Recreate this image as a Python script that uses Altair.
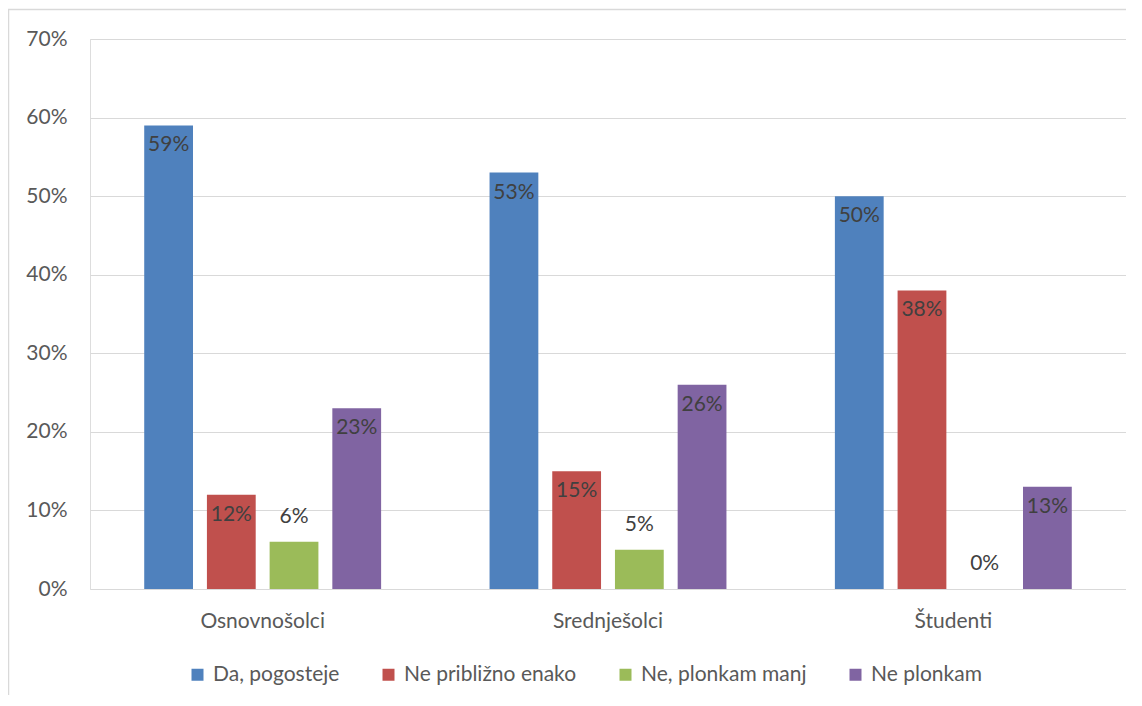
import altair as alt
import pandas as pd

groups = ["Osnovnošolci", "Srednješolci", "Študenti"]
series = ["Da, pogosteje", "Ne približno enako", "Ne, plonkam manj", "Ne plonkam"]
colors = ["#4F81BD", "#C0504D", "#9BBB59", "#8064A2"]
osnovnosolci = [0.59, 0.12, 0.06, 0.23]
srednjesolci = [0.53, 0.15, 0.05, 0.26]
studenti = [0.50, 0.38, 0.00, 0.13]
y_ticks = [0, 0.1, 0.2, 0.3, 0.4, 0.5, 0.6, 0.7]

rows = []
for g, vals in zip(groups, [osnovnosolci, srednjesolci, studenti]):
    for s, v in zip(series, vals):
        rows.append({"group": g, "series": s, "value": v})
df = pd.DataFrame(rows)

FONT = "Lato"
TXT = "#595959"
FS = 21

x_enc = alt.X("group:N", sort=groups, title=None,
              scale=alt.Scale(paddingInner=0.314, paddingOuter=0.157),
              axis=alt.Axis(labelAngle=0, ticks=False, domain=False, labelPadding=21,
                            labelFontSize=FS, labelColor=TXT, labelFont=FONT, grid=False))
xo_enc = alt.XOffset("series:N", sort=series,
                     scale=alt.Scale(paddingInner=0.222, paddingOuter=0))
y_enc = alt.Y("value:Q", title=None,
              scale=alt.Scale(domain=[0, 0.7], nice=False),
              axis=alt.Axis(values=y_ticks, format=".0%", ticks=False, domain=False,
                            labelPadding=23, labelFontSize=FS, labelColor=TXT, labelFont=FONT,
                            gridColor="#D9D9D9", gridWidth=1.2))

base = alt.Chart(df)

bars = base.mark_bar().encode(
    x=x_enc, xOffset=xo_enc, y=y_enc,
    color=alt.Color("series:N", sort=series, title=None,
                    scale=alt.Scale(domain=series, range=colors),
                    legend=alt.Legend(orient="none", legendX=97, legendY=625, direction="horizontal",
                                      columns=4, symbolType="square", symbolSize=144,
                                      symbolStrokeWidth=0, labelFontSize=FS, labelColor=TXT,
                                      labelFont=FONT, labelOffset=5, columnPadding=38, padding=0,
                                      labelLimit=400)),
)

label_common = dict(fontSize=FS, color="#404040", font=FONT, align="center", baseline="middle")

labels_in = base.transform_filter("datum.value >= 0.1").mark_text(dy=20, **label_common).encode(
    x=x_enc, xOffset=xo_enc, y=y_enc, text=alt.Text("value:Q", format=".0%"))
labels_out = base.transform_filter("datum.value < 0.1").mark_text(dy=-25, **label_common).encode(
    x=x_enc, xOffset=xo_enc, y=y_enc, text=alt.Text("value:Q", format=".0%"))

frame_df = pd.DataFrame({"k": [0]})
left_line = alt.Chart(frame_df).mark_rule(color="#D9D9D9", strokeWidth=1.5).encode(
    x=alt.value(-81.5), y=alt.value(-30), y2=alt.value(720))
top_line = alt.Chart(frame_df).mark_rule(color="#D9D9D9", strokeWidth=1.5).encode(
    x=alt.value(-82), x2=alt.value(1100), y=alt.value(-29.5))

chart = alt.layer(left_line, top_line, bars, labels_in, labels_out).properties(
    width=1036, height=550,
    autosize=alt.AutoSizeParams(type="none"),
    padding={"left": 82, "top": 31, "right": 0, "bottom": 106},
).configure_view(stroke=None).configure(background="white")

chart.save("out.html", embed_options={"renderer": "svg", "actions": False})
